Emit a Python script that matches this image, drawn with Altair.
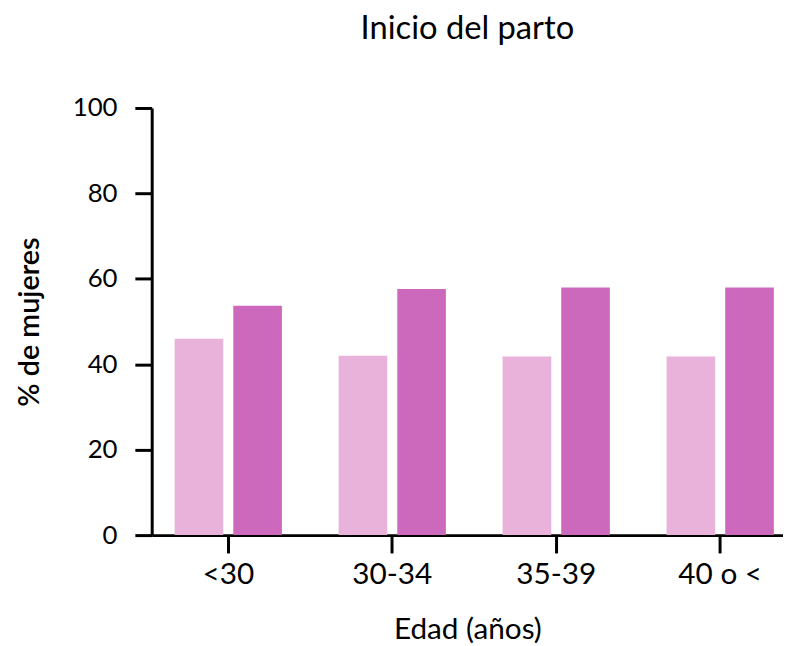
import altair as alt
import pandas as pd

categories = ["<30", "30-34", "35-39", "40 o <"]
series_names = ["Serie 1", "Serie 2"]
serie1 = [46.0, 42.0, 41.8, 41.8]
serie2 = [53.7, 57.6, 58.0, 58.0]
colors = ["#e8b2db", "#cd69bd"]

rows = []
for i, c in enumerate(categories):
    rows.append({"edad": c, "serie": series_names[0], "valor": serie1[i]})
    rows.append({"edad": c, "serie": series_names[1], "valor": serie2[i]})
df = pd.DataFrame(rows)

FONT = "Lato"

chart = alt.Chart(df).mark_bar().encode(
    x=alt.X("edad:N", sort=categories,
            scale=alt.Scale(paddingInner=0.3, paddingOuter=0.075, align=0.78),
            axis=alt.Axis(title="Edad (años)", labelAngle=0, labelFontSize=30,
                          labelPadding=7, tickSize=18, tickWidth=3, domainWidth=3,
                          domainColor="black", tickColor="black", labelColor="black",
                          titleFontSize=30, titleFontWeight="normal", titlePadding=25,
                          titleColor="black")),
    xOffset=alt.XOffset("serie:N", sort=series_names,
                        scale=alt.Scale(paddingInner=0.171, paddingOuter=0.064)),
    y=alt.Y("valor:Q", scale=alt.Scale(domain=[0, 100]),
            axis=alt.Axis(title="% de mujeres", values=[0, 20, 40, 60, 80, 100],
                          grid=False, labelFontSize=26, labelPadding=18, tickSize=17,
                          tickWidth=3, domainWidth=3, domainColor="black",
                          tickColor="black", labelColor="black", titleFontSize=29,
                          titleFontWeight=600, titlePadding=28, titleColor="black")),
    color=alt.Color("serie:N", sort=series_names,
                    scale=alt.Scale(domain=series_names, range=colors), legend=None),
).properties(
    width=637,
    height=431,
    title=alt.Title("Inicio del parto", fontSize=33, fontWeight="normal",
                    color="black", offset=50, anchor="middle"),
    autosize=alt.AutoSizeParams(type="none"),
    padding={"left": 145, "top": 98, "right": 0, "bottom": 109},
).configure(font=FONT).configure_view(stroke=None)

chart.save("out.html", embed_options={"renderer": "svg", "actions": False})
